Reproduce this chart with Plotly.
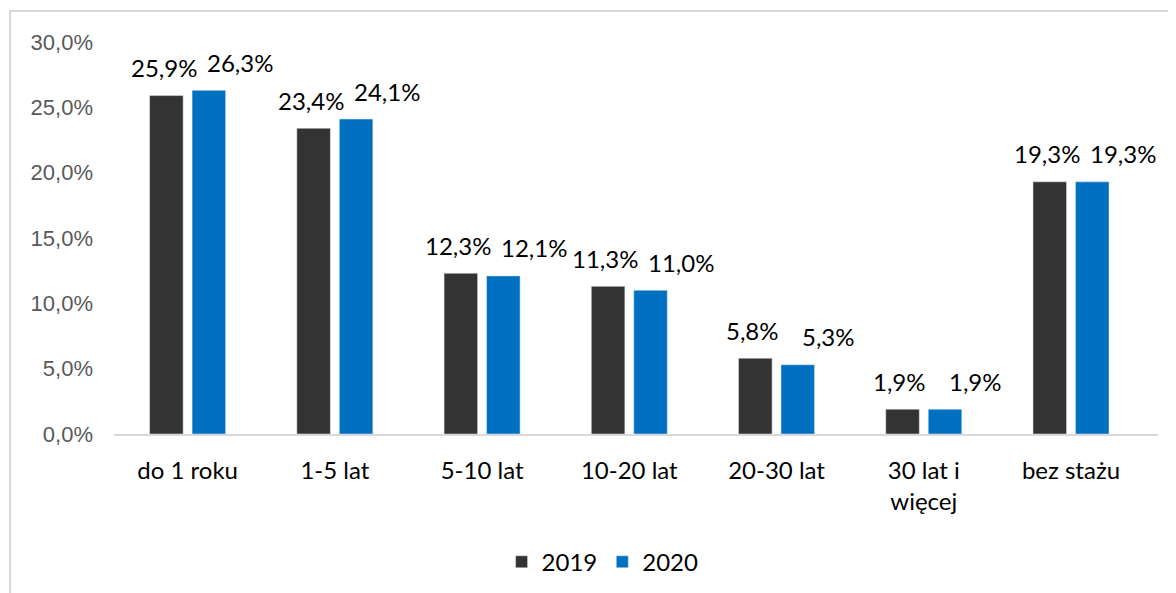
import plotly.graph_objects as go

kategorie = ["do 1 roku", "1-5 lat", "5-10 lat", "10-20 lat", "20-30 lat", "30 lat i<br>więcej", "bez stażu"]
wartosci_2019 = [25.9, 23.4, 12.3, 11.3, 5.8, 1.9, 19.3]
wartosci_2020 = [26.3, 24.1, 12.1, 11.0, 5.3, 1.9, 19.3]
y_ticki = [0, 5, 10, 15, 20, 25, 30]

kolor_2019 = "#333333"
kolor_2020 = "#0070C0"
czcionka = "Lato"


def etykieta(v):
    # format z przecinkiem jak w Excelu
    return f"{v:.1f}".replace(".", ",") + "%"


fig = go.Figure()
fig.add_trace(go.Bar(x=kategorie, y=wartosci_2019, name="2019", marker_color=kolor_2019))
fig.add_trace(go.Bar(x=kategorie, y=wartosci_2020, name="2020", marker_color=kolor_2020))

# etykiety danych nad słupkami
for wartosci, przesun in [(wartosci_2019, -24), (wartosci_2020, 52)]:
    for kat, v in zip(kategorie, wartosci):
        fig.add_annotation(
            x=kat, y=v, text=etykieta(v), showarrow=False,
            xshift=przesun, yshift=28, yanchor="middle",
            font=dict(family=czcionka, size=24, color="black"),
        )

# ramka wykresu (widoczna lewa i górna krawędź)
fig.add_shape(
    type="rect", xref="paper", yref="paper",
    x0=-0.0996, x1=1.2, y0=-0.6, y1=1.079,
    line=dict(color="#D9D9D9", width=2), fillcolor="rgba(0,0,0,0)",
)

fig.update_layout(
    width=1176,
    height=593,
    margin=dict(l=106, r=26, t=34, b=167),
    plot_bgcolor="white",
    paper_bgcolor="white",
    barmode="group",
    bargap=0.423,
    bargroupgap=0.21,
    showlegend=True,
    legend=dict(
        orientation="h", x=0.468, xanchor="center", y=-0.327, yanchor="middle",
        font=dict(family=czcionka, size=24, color="black"),
        itemwidth=30,
    ),
    xaxis=dict(
        showline=True, linecolor="#D9D9D9", linewidth=2,
        showgrid=False, ticks="", ticklabelstandoff=14,
        tickfont=dict(family=czcionka, size=24, color="black"),
    ),
    yaxis=dict(
        range=[0, 30], tickvals=y_ticki,
        ticktext=[etykieta(t) for t in y_ticki],
        showgrid=False, zeroline=False, showline=False, ticks="",
        ticklabelstandoff=20,
        tickfont=dict(family="Liberation Sans", size=22, color="#595959"),
    ),
)

fig.write_html("out.html")
